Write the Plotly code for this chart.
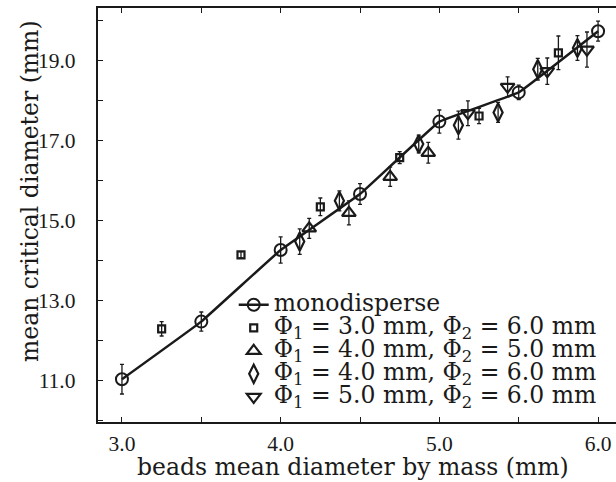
import plotly.graph_objects as go

# monodisperse
mono_x = [3.0, 3.5, 4.0, 4.5, 5.0, 5.5, 6.0]
mono_y = [11.02, 12.46, 14.25, 15.65, 17.46, 18.19, 19.72]
mono_e = [0.37, 0.24, 0.33, 0.26, 0.29, 0.18, 0.25]

# Phi1 = 3.0, Phi2 = 6.0
sq_x = [3.25, 3.75, 4.25, 4.75, 5.25, 5.75]
sq_y = [12.28, 14.13, 15.33, 16.56, 17.60, 19.18]
sq_e = [0.18, 0.08, 0.22, 0.15, 0.19, 0.42]

# Phi1 = 4.0, Phi2 = 5.0
tu_x = [4.18, 4.43, 4.69, 4.93]
tu_y = [14.79, 15.18, 16.08, 16.68]
tu_e = [0.25, 0.30, 0.24, 0.26]

# Phi1 = 4.0, Phi2 = 6.0
di_x = [4.12, 4.37, 4.87, 5.12, 5.37, 5.62, 5.87]
di_y = [14.46, 15.48, 16.90, 17.37, 17.69, 18.77, 19.30]
di_e = [0.32, 0.25, 0.22, 0.35, 0.25, 0.27, 0.31]

# Phi1 = 5.0, Phi2 = 6.0
td_x = [5.18, 5.43, 5.68, 5.93]
td_y = [17.67, 18.33, 18.72, 19.26]
td_e = [0.31, 0.25, 0.33, 0.44]

labels = [
    "monodisperse",
    "Φ<sub>1</sub> = 3.0 mm, Φ<sub>2</sub> = 6.0 mm",
    "Φ<sub>1</sub> = 4.0 mm, Φ<sub>2</sub> = 5.0 mm",
    "Φ<sub>1</sub> = 4.0 mm, Φ<sub>2</sub> = 6.0 mm",
    "Φ<sub>1</sub> = 5.0 mm, Φ<sub>2</sub> = 6.0 mm",
]
x_title = "beads mean diameter by mass (mm)"
y_title = "mean critical diameter (mm)"

INK = "#1a1a1a"
TFONT = "DejaVu Serif"
NFONT = "Liberation Serif"


def big(t):
    return '<span style="font-size:23.5px">' + t + "</span>"


def err(e):
    return dict(type="data", array=e, visible=True, color=INK, thickness=1.3, width=2)


fig = go.Figure()
fig.add_trace(go.Scatter(
    x=mono_x, y=mono_y, error_y=err(mono_e), name=big(labels[0]),
    mode="lines+markers", line=dict(color=INK, width=2.5, shape="spline", smoothing=0.15),
    marker=dict(symbol="circle-open", size=12, color=INK, line=dict(color=INK, width=2)),
))
series = [
    (sq_x, sq_y, sq_e, "square-open", 7),
    (tu_x, tu_y, tu_e, "triangle-up-open", 12),
    (di_x, di_y, di_e, "diamond-tall-open", 13),
    (td_x, td_y, td_e, "triangle-down-open", 12),
]
for i, (x, y, e, sym, sz) in enumerate(series):
    fig.add_trace(go.Scatter(
        x=x, y=y, error_y=err(e), name=big(labels[i + 1]), mode="markers",
        marker=dict(symbol=sym, size=sz, color=INK, line=dict(color=INK, width=2.2)),
    ))

axis_common = dict(
    showline=True, linecolor=INK, linewidth=2.4, ticks="inside", ticklen=5,
    tickwidth=1, tickcolor=INK, showgrid=False, zeroline=False,
    tickformat=".1f", tickfont=dict(family=NFONT, size=21.5, color=INK),
)
fig.update_layout(
    width=616, height=482,
    margin=dict(l=98, r=0, t=8, b=60),
    paper_bgcolor="white", plot_bgcolor="white",
    font=dict(family=TFONT, size=16, color=INK),
    xaxis=dict(
        range=[2.849, 6.113], dtick=1, tick0=3, mirror="allticks",
        minor=dict(dtick=0.5, tick0=3, ticks="inside", ticklen=5, tickcolor=INK),
        ticklabelstandoff=1,
        **axis_common,
    ),
    yaxis=dict(
        range=[9.95, 20.3], dtick=2, tick0=11, mirror=False,
        minor=dict(dtick=1, tick0=11, ticks="inside", ticklen=5, tickcolor=INK),
        ticklabelstandoff=16,
        **axis_common,
    ),
    legend=dict(
        x=0.262, y=0.323, xanchor="left", yanchor="top",
        bgcolor="rgba(0,0,0,0)", itemwidth=30, tracegroupgap=0,
        font=dict(family=TFONT, size=15.4, color=INK),
    ),
    showlegend=True,
    annotations=[
        dict(text=x_title, xref="paper", yref="paper", x=(353 - 98) / 518, y=(422 - 475) / 414,
             xanchor="center", yanchor="bottom", showarrow=False, yshift=-8,
             font=dict(family=TFONT, size=23.5, color=INK)),
        dict(text=y_title, xref="paper", yref="paper", x=(30 - 98) / 518, y=(422 - 191) / 414,
             xanchor="center", yanchor="middle", showarrow=False, textangle=-90,
             font=dict(family=TFONT, size=23.5, color=INK)),
    ],
)

fig.write_html("out.html")
